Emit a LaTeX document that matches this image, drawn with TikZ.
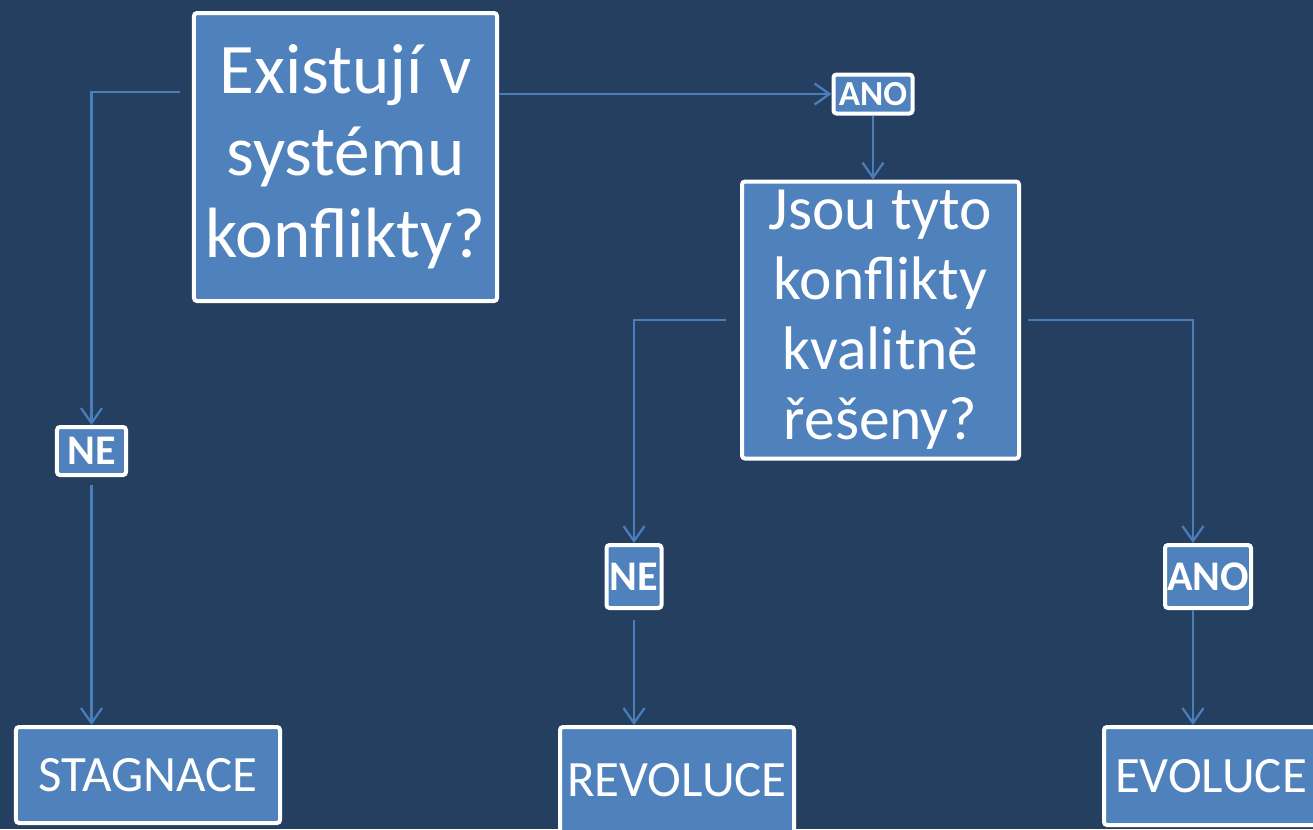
\documentclass[tikz,border=0pt]{standalone}
\usepackage{fontspec}
\setmainfont{Carlito}
\usetikzlibrary{arrows.meta,positioning,calc}
\definecolor{SlideNavy}{HTML}{243F60}
\definecolor{SlideBlue}{HTML}{4F81BD}
\definecolor{SlideLine}{HTML}{4A7EBB}

\begin{document}
\begin{tikzpicture}[x=0.2mm,y=-0.2mm,
    ask/.style={draw=white,fill=SlideBlue,line width=0.8mm,rounded corners=0.6mm,text=white,align=center,inner sep=0pt},
    tag/.style={ask,font=\fontsize{24}{28}\selectfont\bfseries,minimum height=12.6mm},
    outcome/.style={ask,font=\fontsize{29}{34}\selectfont},
    arr/.style={-{Straight Barb[length=3mm,width=4.2mm]},line width=0.45mm,SlideLine}
  ]
    \useasboundingbox (0,0) rectangle (1313,829);
    \fill[SlideNavy] (0,0) rectangle (1313,829);
    \coordinate (rowT) at (0,92);
    \coordinate (colR) at (1193,0);
    % questions
    \node[ask,minimum width=60.6mm,minimum height=57.6mm,font=\fontsize{40.5}{46.7}\selectfont] (q1) at (345.5,157) {Existují v\\systému\\konflikty?};
    \node[ask,minimum width=55.4mm,minimum height=55.4mm,font=\fontsize{35}{39.8}\selectfont] (q2) at (880.5,320) {Jsou tyto\\konflikty\\kvalitně\\řešeny?};
    % answers
    \node[ask,minimum width=15.8mm,minimum height=7.8mm,font=\fontsize{20}{24}\selectfont\bfseries] (ano1) at (873,94) {ANO};
    \node[tag,minimum width=13.8mm,minimum height=9.6mm] (ne1) at (91.5,451) {NE};
    \node[tag,minimum width=11mm] (ne2) at (634,576.5) {NE};
    \node[tag,minimum width=17.2mm] (ano2) at (1208,576.5) {ANO};
    % outcomes
    \node[outcome,minimum width=52.8mm,minimum height=19.2mm] (stag) at (148,775) {STAGNACE};
    \node[outcome,minimum width=46.8mm,minimum height=21.2mm] (rev) at (677,780) {REVOLUCE};
    \node[outcome,minimum width=42.8mm,minimum height=19.6mm] (evo) at (1211,776) {EVOLUCE};
    % connectors
    \draw[arr,shorten <=2.4mm] (q1.west |- rowT) -| (ne1.north);
    \draw[arr] (q1.east |- ano1.west) -- (ano1.west);
    \draw[arr] (ano1.south) -- (ano1.south |- q2.north);
    \draw[arr,shorten <=2.8mm] (q2.west) -| (ne2.north);
    \draw[arr,shorten <=1.4mm] (q2.east) -| (ano2.north -| colR);
    \draw[arr,shorten <=1.6mm] (ne1.south) -- (ne1.south |- stag.north);
    \draw[arr,shorten <=2mm] (ne2.south) -- (ne2.south |- rev.north);
    \draw[arr] (ano2.south -| colR) -- (evo.north -| colR);
  \end{tikzpicture}
\end{document}
